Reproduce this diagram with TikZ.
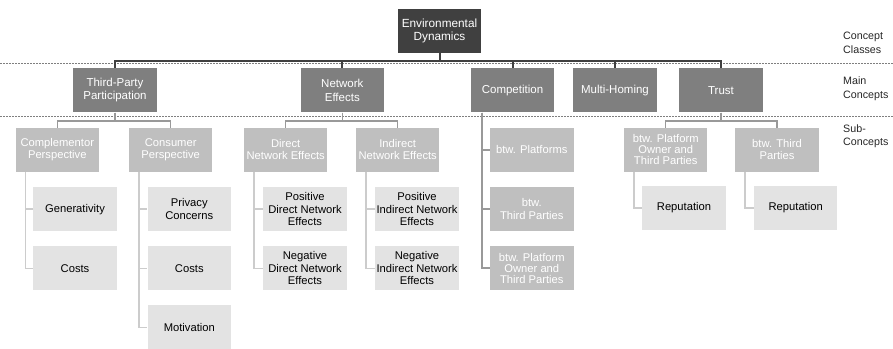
\documentclass[tikz,border=0pt]{standalone}
\usepackage{fontspec}
\setmainfont{Liberation Sans}
\usetikzlibrary{calc}
\definecolor{rootc}{HTML}{404040}
\definecolor{mainc}{HTML}{7F7F7F}
\definecolor{subc}{HTML}{BFBFBF}
\definecolor{leafc}{HTML}{E3E3E3}
\definecolor{lblc}{HTML}{262626}
\tikzset{
  box/.style={rectangle, minimum width=83.4pt, minimum height=44pt, inner sep=0pt, align=center,
    font=\fontsize{11.2}{12.5}\selectfont},
  rootbox/.style={box, fill=rootc, text=white, font=\fontsize{11.8}{13.3}\selectfont},
  mainbox/.style={box, fill=mainc, text=white, font=\fontsize{11.5}{13.3}\selectfont},
  subbox/.style={box, fill=subc, text=white},
  leafbox/.style={box, fill=leafc, text=black},
  tight/.style={font=\fontsize{11.2}{11}\selectfont},
  lvlone/.style={draw=rootc, line width=2pt},
  lvltwo/.style={draw=mainc!80, line width=1.5pt},
  lvlthree/.style={draw=leafc!90!black, line width=1.5pt},
  compline/.style={draw=subc!80!black, line width=2pt},
  sep/.style={draw=mainc, line width=0.9pt, dash pattern=on 1.5pt off 1.5pt},
  lbl/.style={anchor=west, align=left, inner sep=0pt, text=lblc, font=\fontsize{10.7}{13.3}\selectfont}
}
\begin{document}
\begin{tikzpicture}[x=1pt,y=-1pt]
\useasboundingbox (0,0) rectangle (893,348);
% separators
\coordinate (sepAl) at (0,63.5);
\coordinate (sepAr) at (893,63.5);
\coordinate (sepBl) at (0,116);
\coordinate (sepBr) at (893,116);
\draw[sep] (sepAl) -- (sepAr);
\draw[sep] (sepBl) -- (sepBr);
% root
\node[rootbox] (root) at (439.5,31) {Environmental\\Dynamics};
% main
\node[mainbox] (tpp) at (115,90.3) {Third-Party\\Participation};
\node[mainbox] (ne) at (342.3,90.3) {Network\\Effects};
\node[mainbox] (comp) at (512.5,90.3) {Competition};
\node[mainbox] (mh) at (615,90.3) {Multi-Homing};
\node[mainbox] (trust) at (721,90.3) {Trust};
% sub
\node[subbox] (cp) at (57.3,149.7) {Complementor\\Perspective};
\node[subbox] (cons) at (170.7,149.7) {Consumer\\Perspective};
\node[subbox] (dne) at (285.7,149.7) {Direct\\Network Effects};
\node[subbox] (ine) at (397.7,149.7) {Indirect\\Network Effects};
\node[subbox] (bplat) at (531.8,149.7) {btw. Platforms};
\node[subbox] (bthird) at (531.8,209.2) {btw.\\Third Parties};
\node[subbox, tight] (bpo) at (531.8,268.3) {btw. Platform\\Owner and\\Third Parties};
\node[subbox, tight] (tpo) at (665.7,149.7) {btw. Platform\\Owner and\\Third Parties};
\node[subbox] (tthird) at (777,149.7) {btw. Third\\Parties};
% leaves
\node[leafbox] (gen) at (75,209.2) {Generativity};
\node[leafbox] (cost1) at (75,268.3) {Costs};
\node[leafbox] (priv) at (189.3,209.2) {Privacy\\Concerns};
\node[leafbox] (cost2) at (189.3,268.3) {Costs};
\node[leafbox] (mot) at (189.3,327.4) {Motivation};
\node[leafbox] (pdne) at (305,209.2) {Positive\\Direct Network\\Effects};
\node[leafbox] (ndne) at (305,268.3) {Negative\\Direct Network\\Effects};
\node[leafbox] (pine) at (417,209.2) {Positive\\Indirect Network\\Effects};
\node[leafbox] (nine) at (417,268.3) {Negative\\Indirect Network\\Effects};
\node[leafbox] (rep1) at (684,208) {Reputation};
\node[leafbox] (rep2) at (795.7,208) {Reputation};
% labels
\node[lbl] (l1) at (843,42.7) {Concept\\Classes};
\node[lbl] (l2) at (843,88.7) {Main\\Concepts};
\node[lbl] (l3) at (843,136) {Sub-\\Concepts};
% root -> main
\foreach \c in {tpp,ne,comp,mh,trust}
  \draw[lvlone] (root.south) -- ++(0,8) -| (\c.north);
% main -> sub
\foreach \p/\c in {tpp/cp,tpp/cons,ne/dne,ne/ine,trust/tpo,trust/tthird}
  \draw[lvltwo] (\p.south) -- ++(0,8.4) -| (\c.north);
% competition
\foreach \c in {bplat,bthird,bpo}
  \draw[compline] ([xshift=11pt]comp.south west) |- (\c.west);
% sub -> leaves
\foreach \p/\c in {cp/gen,cp/cost1,cons/priv,cons/cost2,cons/mot,dne/pdne,dne/ndne,ine/pine,ine/nine,tpo/rep1,tthird/rep2}
  \draw[lvlthree] ([xshift=10pt]\p.south west) |- (\c.west);
\end{tikzpicture}
\end{document}
